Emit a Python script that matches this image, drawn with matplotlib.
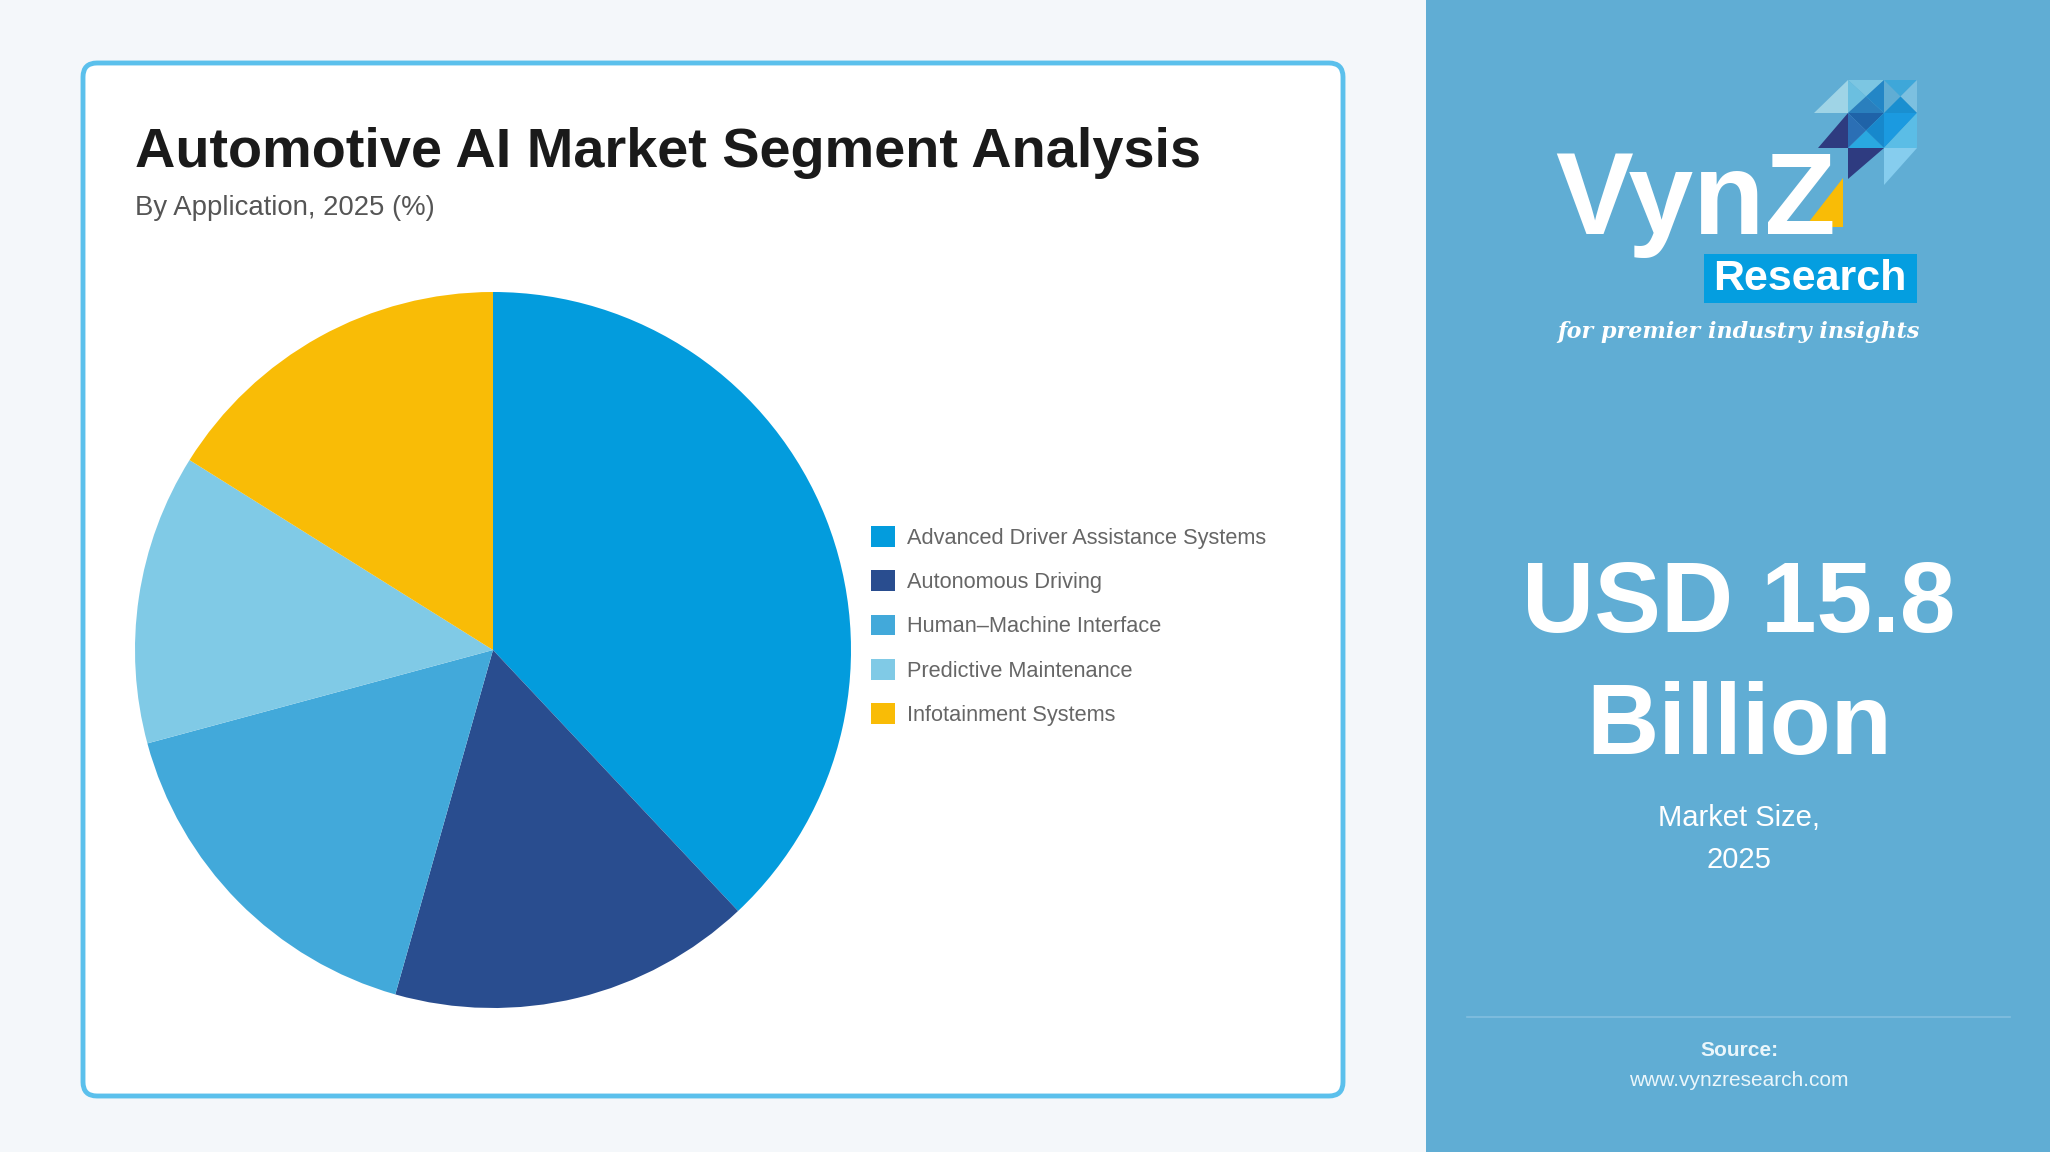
import matplotlib
matplotlib.use("Agg")
import matplotlib.pyplot as plt
from matplotlib.patches import FancyBboxPatch, Rectangle, Polygon

plt.rcParams['font.family'] = ['Liberation Sans', 'DejaVu Sans']

# data
segments = ["Advanced Driver Assistance Systems", "Autonomous Driving",
            "Human\u2013Machine Interface", "Predictive Maintenance",
            "Infotainment Systems"]
shares = [38, 16.4, 16.4, 13.1, 16.1]  # %
colors = ["#039cdd", "#294d8f", "#42a9da", "#80cae6", "#f9bc06"]
market_size = "USD 15.8"
market_unit = "Billion"
market_year = "2025"

W, H = 2050, 1152
fig = plt.figure(figsize=(W / 100, H / 100), dpi=100)
fig.patch.set_facecolor("#f4f7fa")

# full-figure overlay in pixel coords (y down)
bg = fig.add_axes([0, 0, 1, 1])
bg.set_xlim(0, W)
bg.set_ylim(H, 0)
bg.axis("off")

# card
card = FancyBboxPatch((83, 63), 1260, 1033, boxstyle="round,pad=0,rounding_size=14",
                      facecolor="white", edgecolor="#5bc0ec", linewidth=3.5)
bg.add_patch(card)

# right panel
bg.add_patch(Rectangle((1426, 0), W - 1426, H, facecolor="#60add4", edgecolor="none"))

bg.text(135, 153, "Automotive AI Market Segment Analysis", fontsize=40.2, fontweight="bold",
        color="#1a1a1a", va="center", ha="left")
bg.text(135, 208, "By Application, 2025 (%)", fontsize=19.8, color="#555555",
        va="center", ha="left")

# pie
r = 358
cx, cy = 493, 650
pax = fig.add_axes([(cx - r) / W, (H - cy - r) / H, 2 * r / W, 2 * r / H])
wedges, _ = pax.pie(shares, colors=colors, startangle=90, counterclock=False,
                    wedgeprops=dict(linewidth=0))
pax.set_xlim(-1, 1)
pax.set_ylim(-1, 1)

leg = fig.legend(wedges, segments, loc="center left",
                 bbox_to_anchor=(871 / W, 1 - 626 / H), frameon=False,
                 fontsize=15.7, handlelength=1.1, handleheight=1.1,
                 handletextpad=0.55, labelspacing=0.98, borderpad=0, borderaxespad=0)
for t in leg.get_texts():
    t.set_color("#666666")

# logo
bg.text(1555, 203, "VynZ", fontsize=84, fontweight="bold", color="white",
        va="center", ha="left")
bg.add_patch(Polygon([(1843, 178), (1843, 227), (1805, 227)], closed=True,
                     facecolor="#f9bc06", edgecolor="none"))
bg.add_patch(Rectangle((1704, 254), 213, 49, facecolor="#049ee0", edgecolor="none"))
bg.text(1810, 279, "Research", fontsize=31, fontweight="bold", color="white",
        va="center", ha="center")
bg.text(1738, 332, "for premier industry insights", fontsize=16, style="italic",
        fontweight="bold", family="DejaVu Serif", color="white", va="center", ha="center")
x0, x1, x2, x3 = 1814, 1848, 1884, 1917
y0, y1, y2, y3 = 80, 113, 148, 185
xm1, xm2 = (x1 + x2) / 2, (x2 + x3) / 2
ym0, ym1 = (y0 + y1) / 2, (y1 + y2) / 2
tri = [
    ([(x0, y1), (x1, y0), (x1, y1)], "#9fd4e6"),
    ([(x1, y0), (x2, y0), (xm1, ym0)], "#7cc6e2"),
    ([(x1, y0), (xm1, ym0), (x1, y1)], "#6bbfe0"),
    ([(x1, y1), (xm1, ym0), (x2, y1)], "#2a7fbd"),
    ([(x2, y0), (xm1, ym0), (x2, y1)], "#2386c6"),
    ([(x2, y0), (x3, y0), (xm2, ym0)], "#3ea7d9"),
    ([(x3, y0), (xm2, ym0), (x3, y1)], "#7cc0e0"),
    ([(x2, y1), (xm2, ym0), (x3, y1)], "#1a8fd0"),
    ([(x0 + 4, y2), (x1, y1), (x1, y2)], "#2e3b80"),
    ([(x1, y1), (x2, y1), (xm1, ym1)], "#1f63a8"),
    ([(x1, y2), (xm1, ym1), (x2, y2)], "#29a8e0"),
    ([(x1, y1), (xm1, ym1), (x1, y2)], "#2b6fb5"),
    ([(x2, y1), (xm1, ym1), (x2, y2)], "#1788cc"),
    ([(x2, y1), (x3, y1), (x2, y2)], "#1b9ae0"),
    ([(x3, y1), (x3, y2), (x2, y2)], "#5bbde6"),
    ([(x1, y2), (x2, y2), (x1, y3 - 6)], "#2e3b80"),
    ([(x2, y2), (x3, y2), (x2, y3)], "#86cdee"),
]
for pts, c in tri:
    bg.add_patch(Polygon(pts, closed=True, facecolor=c, edgecolor="none"))

# market size
bg.text(1739, 606, market_size, fontsize=72, fontweight="bold", color="white",
        va="center", ha="center")
bg.text(1739, 728, market_unit, fontsize=72, fontweight="bold", color="white",
        va="center", ha="center")
bg.text(1739, 818, "Market Size,", fontsize=21, color="white", va="center", ha="center")
bg.text(1739, 860, market_year, fontsize=21, color="white", va="center", ha="center")

bg.plot([1467, 2010], [1017, 1017], color="#82bfdf", linewidth=1.2)
bg.text(1739, 1050, "Source:", fontsize=15, fontweight="bold", color="#eaf6fb",
        va="center", ha="center")
bg.text(1739, 1080, "www.vynzresearch.com", fontsize=15, color="#eaf6fb",
        va="center", ha="center")

fig.savefig("out.png", dpi=100, facecolor=fig.get_facecolor())
